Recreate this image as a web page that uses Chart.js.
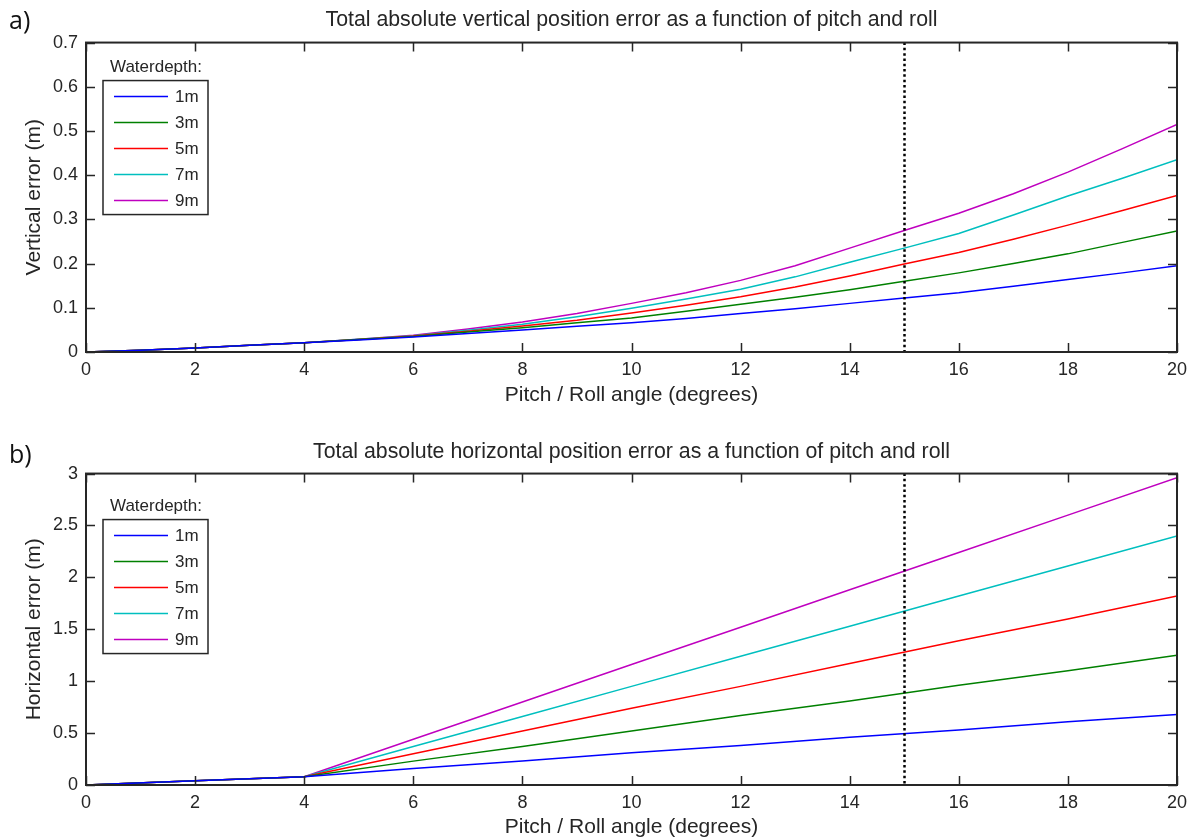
<!DOCTYPE html>
<html>
<head>
<meta charset="utf-8">
<title>Position error vs pitch and roll</title>
<script src="https://cdn.jsdelivr.net/npm/chart.js@4.4.1/dist/chart.umd.min.js"></script>
<style>
  html, body { margin: 0; padding: 0; background: #fff; }
  #wrap { position: relative; width: 1195px; height: 840px; }
  canvas { position: absolute; left: 0; }
  #vert { top: 0; }
  #horz { top: 420px; }
  .tag { position: absolute; left: 9px; font: 25px "Open Sans", "Liberation Sans", sans-serif; color: #111; line-height: 1; }
</style>
</head>
<body>
<div id="wrap">
  <canvas id="vert" width="1195" height="420"></canvas>
  <canvas id="horz" width="1195" height="420"></canvas>
  <div class="tag" style="top:7px">a)</div>
  <div class="tag" style="top:441px">b)</div>
</div>
<script>
// water depths and line colours
var depths = ['1m', '3m', '5m', '7m', '9m'];
var colors = ['#0000ff', '#008000', '#ff0000', '#00bfbf', '#bf00bf'];

// max allowed pitch/roll
var limitAngle = 15;

// vertical error (m), one value per degree
var vAngles = [0, 1, 2, 3, 4, 5, 6, 7, 8, 9, 10, 11, 12, 13, 14, 15, 16, 17, 18, 19, 20];
var vErr1 = [0, 0.004, 0.009, 0.015, 0.021, 0.027, 0.034, 0.042, 0.050, 0.058, 0.066, 0.076, 0.087, 0.098, 0.110, 0.122, 0.134, 0.149, 0.164, 0.179, 0.195];
var vErr3 = [0, 0.004, 0.009, 0.015, 0.021, 0.028, 0.035, 0.045, 0.055, 0.066, 0.077, 0.092, 0.108, 0.124, 0.141, 0.160, 0.179, 0.200, 0.222, 0.248, 0.274];
var vErr5 = [0, 0.004, 0.009, 0.015, 0.021, 0.028, 0.036, 0.047, 0.059, 0.072, 0.088, 0.106, 0.125, 0.147, 0.172, 0.199, 0.225, 0.255, 0.287, 0.320, 0.354];
var vErr7 = [0, 0.004, 0.009, 0.015, 0.021, 0.029, 0.037, 0.049, 0.063, 0.080, 0.099, 0.120, 0.142, 0.170, 0.203, 0.235, 0.268, 0.310, 0.353, 0.393, 0.435];
var vErr9 = [0, 0.004, 0.009, 0.015, 0.021, 0.029, 0.038, 0.052, 0.068, 0.087, 0.110, 0.134, 0.162, 0.195, 0.235, 0.275, 0.314, 0.358, 0.407, 0.460, 0.515];

// horizontal error (m)
var hAngles = [0, 2, 4, 6, 8, 10, 12, 14, 16, 18, 20];
var hErr1 = [0, 0.04, 0.08, 0.16, 0.23, 0.31, 0.38, 0.46, 0.53, 0.61, 0.68];
var hErr3 = [0, 0.04, 0.08, 0.23, 0.37, 0.52, 0.67, 0.81, 0.96, 1.10, 1.25];
var hErr5 = [0, 0.04, 0.08, 0.30, 0.52, 0.74, 0.95, 1.17, 1.39, 1.60, 1.82];
var hErr7 = [0, 0.04, 0.08, 0.37, 0.66, 0.95, 1.24, 1.53, 1.82, 2.11, 2.40];
var hErr9 = [0, 0.04, 0.08, 0.44, 0.80, 1.16, 1.52, 1.88, 2.24, 2.60, 2.96];

var xTicks = [0, 2, 4, 6, 8, 10, 12, 14, 16, 18, 20];

var FONT = '"Liberation Sans", Arial, sans-serif';
var INK = '#262626';

// box frame with inward ticks on all four sides + dotted limit line
var framePlugin = {
  id: 'frame',
  afterDatasetsDraw: function (chart) {
    var ctx = chart.ctx, a = chart.chartArea, x = chart.scales.x, y = chart.scales.y;
    ctx.save();
    var lx = Math.round(x.getPixelForValue(limitAngle)) + 0.5;
    ctx.strokeStyle = '#000';
    ctx.lineWidth = 2.5;
    ctx.setLineDash([2.5, 2.8]);
    ctx.beginPath();
    ctx.moveTo(lx, a.top);
    ctx.lineTo(lx, a.bottom);
    ctx.stroke();
    ctx.setLineDash([]);

    ctx.strokeStyle = INK;
    ctx.lineWidth = 1.5;
    var t = 9;
    ctx.beginPath();
    x.ticks.forEach(function (tk) {
      var px = Math.round(x.getPixelForValue(tk.value)) + 0.5;
      ctx.moveTo(px, a.bottom); ctx.lineTo(px, a.bottom - t);
      ctx.moveTo(px, a.top); ctx.lineTo(px, a.top + t);
    });
    y.ticks.forEach(function (tk) {
      var py = Math.round(y.getPixelForValue(tk.value)) + 0.5;
      ctx.moveTo(a.left, py); ctx.lineTo(a.left + t, py);
      ctx.moveTo(a.right, py); ctx.lineTo(a.right - t, py);
    });
    ctx.stroke();
    ctx.lineWidth = 2;
    ctx.strokeRect(a.left, a.top, a.right - a.left, a.bottom - a.top);
    ctx.restore();
  }
};

// boxed legend titled "Waterdepth:"
var depthLegend = {
  id: 'depthLegend',
  afterDraw: function (chart, args, opts) {
    var ctx = chart.ctx, a = chart.chartArea;
    var left = a.left + 17, top = a.top + opts.boxTop;
    var rowH = 26, w = 105, h = 134;
    ctx.save();
    ctx.font = '17px ' + FONT;
    ctx.fillStyle = INK;
    ctx.textBaseline = 'middle';
    ctx.textAlign = 'left';
    ctx.fillText('Waterdepth:', left + 7, top - 13);
    ctx.fillStyle = '#fff';
    ctx.fillRect(left, top, w, h);
    ctx.strokeStyle = INK;
    ctx.lineWidth = 1.5;
    ctx.strokeRect(left, top, w, h);
    chart.data.datasets.forEach(function (ds, i) {
      var ry = Math.round(top + 15 + i * rowH) + 0.5;
      ctx.strokeStyle = ds.borderColor;
      ctx.lineWidth = 1.5;
      ctx.beginPath();
      ctx.moveTo(left + 11, ry);
      ctx.lineTo(left + 65, ry);
      ctx.stroke();
      ctx.fillStyle = INK;
      ctx.fillText(ds.label, left + 72, ry + 1);
    });
    ctx.restore();
  }
};

function makeChart(id, xs, series, yMax, yStep, title, yTitle, lay) {
  var datasets = series.map(function (vals, i) {
    return {
      label: depths[i],
      data: xs.map(function (v, j) { return { x: v, y: vals[j] }; }),
      borderColor: colors[i],
      borderWidth: 1.5,
      pointRadius: 0,
      tension: 0,
      fill: false
    };
  });
  return new Chart(document.getElementById(id), {
    type: 'line',
    data: { datasets: datasets },
    options: {
      responsive: false,
      animation: false,
      layout: { padding: { left: 0, right: 18, top: 0, bottom: 0 } },
      plugins: {
        legend: { display: false },
        tooltip: { enabled: false },
        title: {
          display: true,
          fullSize: false,
          text: title,
          color: INK,
          font: { family: FONT, size: 21.3, weight: 'normal' },
          padding: { top: lay.titleTop, bottom: lay.titleBottom }
        },
        depthLegend: { boxTop: lay.boxTop }
      },
      scales: {
        x: {
          type: 'linear',
          min: 0,
          max: 20,
          afterBuildTicks: function (s) { s.ticks = xTicks.map(function (v) { return { value: v }; }); },
          afterFit: function (s) { s.height = lay.xHeight; },
          ticks: { color: INK, font: { family: FONT, size: 18 }, padding: 7, maxRotation: 0 },
          grid: { display: false, drawTicks: false },
          border: { display: false },
          title: {
            display: true,
            text: 'Pitch / Roll angle (degrees)',
            color: INK,
            font: { family: FONT, size: 21 },
            padding: { top: 0, bottom: lay.xTitleBottom }
          }
        },
        y: {
          type: 'linear',
          min: 0,
          max: yMax,
          afterFit: function (s) { s.width = 86; },
          ticks: {
            stepSize: yStep,
            color: INK,
            font: { family: FONT, size: 18 },
            padding: 8,
            callback: function (v) { return String(Math.round(v * 10) / 10); }
          },
          grid: { display: false, drawTicks: false },
          border: { display: false },
          title: {
            display: true,
            text: yTitle,
            color: INK,
            font: { family: FONT, size: 21 },
            padding: { top: 22, bottom: 0 }
          }
        }
      }
    },
    plugins: [framePlugin, depthLegend]
  });
}

makeChart('vert', vAngles, [vErr1, vErr3, vErr5, vErr7, vErr9], 0.7, 0.1,
  'Total absolute vertical position error as a function of pitch and roll',
  'Vertical error (m)',
  { titleTop: 7, titleBottom: 10, xHeight: 68, xTitleBottom: 12, boxTop: 38 });

makeChart('horz', hAngles, [hErr1, hErr3, hErr5, hErr7, hErr9], 3, 0.5,
  'Total absolute horizontal position error as a function of pitch and roll',
  'Horizontal error (m)',
  { titleTop: 19, titleBottom: 9, xHeight: 55, xTitleBottom: 0, boxTop: 46 });
</script>
</body>
</html>
